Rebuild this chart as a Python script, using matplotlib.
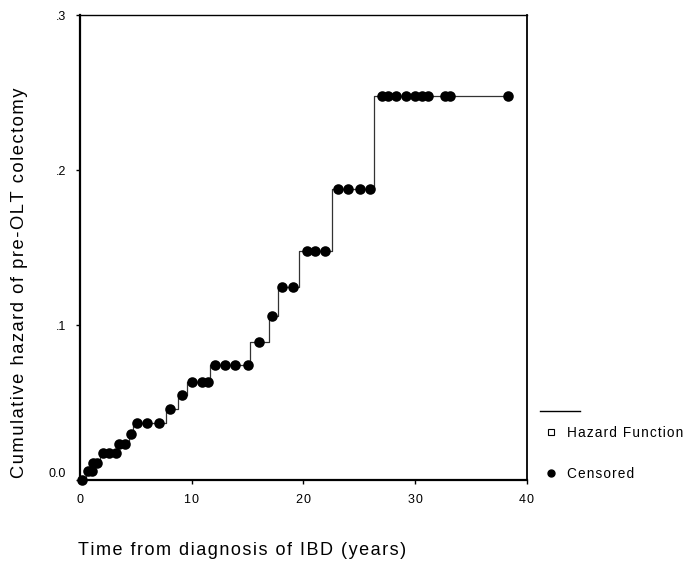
import numpy as np
import matplotlib
matplotlib.use("Agg")
import matplotlib.pyplot as plt
from matplotlib.lines import Line2D

# Step function of cumulative hazard (jump times and level after jump)
step_times = [0.0, 0.5, 1.1, 1.8, 3.35, 4.4, 4.75, 7.7, 8.8, 9.6, 11.6, 15.2,
              16.95, 17.75, 19.6, 22.6, 26.3]
step_levels = [0.0, 0.006, 0.011, 0.0175, 0.0235, 0.030, 0.037, 0.0458, 0.0548,
               0.0634, 0.0742, 0.0892, 0.106, 0.1247, 0.148, 0.188, 0.248]
end_time = 38.3

# Censored observation times
censored_times = [0.15, 0.75, 1.05, 1.2, 1.5, 2.1, 2.6, 3.2, 3.5, 4.0, 4.6, 5.1,
                  6.0, 7.1, 8.1, 9.1, 10.0, 10.9, 11.5, 12.1, 13.0, 13.9, 15.0,
                  16.05, 17.2, 18.05, 19.1, 20.3, 21.0, 21.9, 23.1, 24.0, 25.1,
                  26.0, 27.0, 27.6, 28.3, 29.2, 30.0, 30.6, 31.2, 32.7, 33.1, 38.3]

x_ticks = [0, 10, 20, 30, 40]
x_ticklabels = ["0", "10", "20", "30", "40"]
y_ticks = [0.0, 0.1, 0.2, 0.3]
y_ticklabels = ["0.0", ".1", ".2", ".3"]

plt.rcParams['font.family'] = ['Liberation Sans', 'DejaVu Sans']


def track(s):
    """Add letter spacing with hair spaces."""
    return "\u200a".join(s)


fig = plt.figure(figsize=(6.85, 5.61), dpi=100)
ax = fig.add_axes([0.1168, 0.1444, 0.6522, 0.8286])

st = list(step_times) + [end_time]
sl = list(step_levels) + [step_levels[-1]]
ax.plot(st, sl, drawstyle='steps-post', color='#333333', lw=0.9, zorder=2)

idx = np.searchsorted(step_times, censored_times, side='right') - 1
cy = np.array(step_levels)[idx]
ax.plot(censored_times, cy, 'o', color='black', markersize=7.6, zorder=3,
        clip_on=False, markeredgewidth=0)

ax.set_xlim(0, 40)
ax.set_ylim(0, 0.3)
ax.set_xticks(x_ticks)
ax.set_xticklabels([track(t) for t in x_ticklabels])
ax.set_yticks(y_ticks)
ax.set_yticklabels(y_ticklabels)
ax.tick_params(axis='both', direction='out', length=3, width=1, labelsize=9,
               colors='black', pad=7)
for lbl in ax.get_yticklabels():
    if lbl.get_text() == "0.0":
        lbl.set_va('bottom')
for s, w in [('left', 1.6), ('bottom', 1.6), ('right', 1.3), ('top', 1.0)]:
    ax.spines[s].set_linewidth(w)
    ax.spines[s].set_color('black')

fig.text(0.029, 0.4955, track("Cumulative hazard of pre-OLT colectomy"),
         rotation=90, ha='center', va='center', fontsize=13.2)
fig.text(0.114, 0.019, track("Time from diagnosis of IBD (years)"), ha='left',
         va='center', fontsize=13)

# Legend (drawn in figure coordinates)
fig.add_artist(Line2D([540 / 685, 580 / 685], [1 - 411 / 561, 1 - 411 / 561],
                      color='black', lw=1.0, transform=fig.transFigure))
fig.add_artist(Line2D([551 / 685], [1 - 432 / 561], marker='s', markersize=4,
                      markerfacecolor='white', markeredgecolor='black',
                      markeredgewidth=0.8, linestyle='none',
                      transform=fig.transFigure))
fig.text(567 / 685, 1 - 433 / 561, track("Hazard Function"), ha='left',
         va='center', fontsize=9.8)
fig.add_artist(Line2D([551 / 685], [1 - 473 / 561], marker='o', markersize=5,
                      color='black', linestyle='none', transform=fig.transFigure))
fig.text(567 / 685, 1 - 474 / 561, track("Censored"), ha='left', va='center',
         fontsize=9.8)

fig.savefig("out.png", dpi=100)
